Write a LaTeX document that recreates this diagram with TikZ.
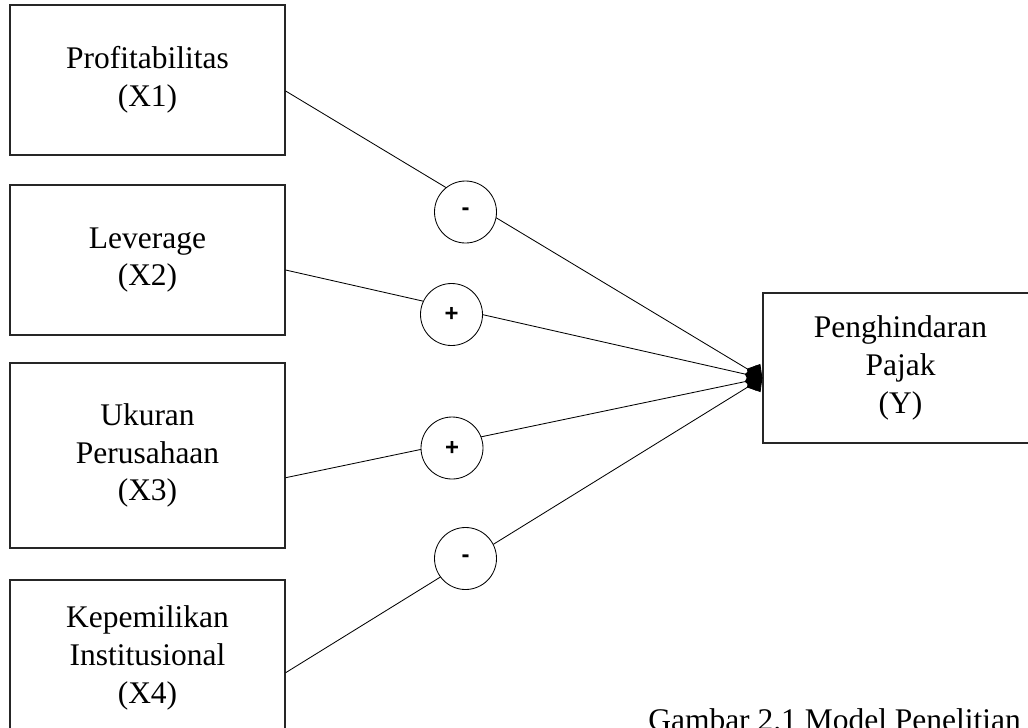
\documentclass[tikz,border=0pt]{standalone}
\usepackage{fontspec}
\setmainfont{Liberation Serif}
\newfontfamily\signfont{Liberation Sans}
\usetikzlibrary{arrows.meta}
\begin{document}
\begin{tikzpicture}[
    var/.style={draw=black!85, line width=0.9pt, minimum width=6.875cm, align=center,
      inner sep=0pt, font=\fontsize{22.4}{26.8}\selectfont},
    sign/.style={circle, draw, fill=white, line width=0.6pt, minimum size=1.55cm,
      inner sep=0pt, font=\signfont\bfseries\fontsize{17}{19}\selectfont},
    link/.style={line width=0.6pt, -{Diamond[length=0.45cm, width=0.55cm]}},
    note/.style={anchor=base west, inner sep=0pt, font=\fontsize{22.4}{26.8}\selectfont}
  ]
  \useasboundingbox (0,0) rectangle (25.7,-18.175);
  \clip (0,0) rectangle (25.7,-18.175);
  \draw
    (3.6875,-2.0) node[var, minimum height=3.75cm] (x1) {Profitabilitas\\(X1)}
    (3.6875,-6.5) node[var, minimum height=3.75cm] (x2) {Leverage\\(X2)}
    (3.6875,-11.3875) node[var, minimum height=4.625cm] (x3) {Ukuran\\Perusahaan\\(X3)}
    (3.6875,-16.45) node[var, minimum height=3.9cm] (x4) {Kepemilikan\\Institusional\\(X4)}
    (22.5125,-9.2) node[var, minimum height=3.75cm] (y) {Penghindaran\\Pajak\\(Y)};
  \coordinate (tip) at ([yshift=-0.25cm]y.west);
  \begin{scope}[link]
    \draw ([yshift=-0.275cm]x1.east) to (tip);
    \draw ([yshift=-0.25cm]x2.east) to (tip);
    \draw ([yshift=-0.555cm]x3.east) to (tip);
    \draw ([yshift=-0.3675cm]x4.east) to (tip);
  \end{scope}
  \draw
    (11.6375,-5.3) node[sign] (s1){-}
    (11.2875,-7.8625) node[sign] (s2){+}
    (11.3,-11.2) node[sign] (s3){+}
    (11.6375,-13.9625) node[sign] (s4){-};
  \node[note] (cap) at (16.2,-18.25) {Gambar 2.1 Model Penelitian};
\end{tikzpicture}
\end{document}
